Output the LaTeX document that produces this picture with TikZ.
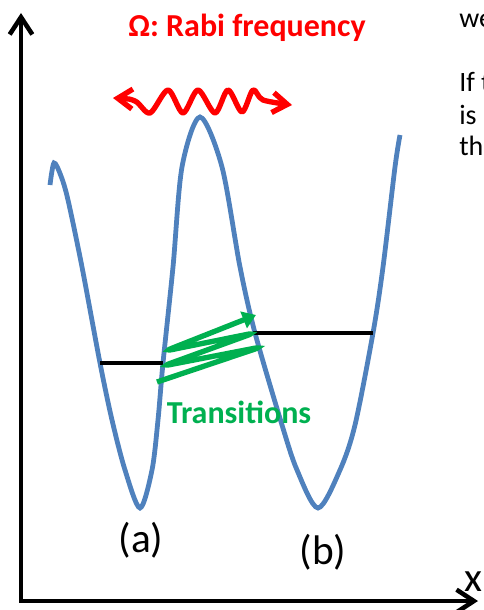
\documentclass[tikz,border=0pt]{standalone}
\usepackage{fontspec}
\setmainfont{Carlito}
\usetikzlibrary{arrows.meta}
\definecolor{WellBlue}{RGB}{79,129,189}
\definecolor{HopGreen}{RGB}{0,176,80}
\definecolor{LaserRed}{RGB}{255,0,0}
\tikzset{
  axis/.style={line width=3.4pt,black,
    {Straight Barb[length=13pt,width=17pt]}-{Straight Barb[length=13pt,width=17pt]}},
  well/.style={line width=3.6pt,WellBlue},
  level/.style={line width=3.4pt,black},
  hop/.style={line width=4pt,HopGreen,rounded corners=5pt,
    -{Triangle[length=10pt,width=13pt]}},
  photon/.style={line width=4pt,LaserRed,line join=round,
    {Straight Barb[length=11pt,width=15pt]}-{Straight Barb[length=11pt,width=15pt]}},
  tag/.style={font=\fontsize{31}{31}\selectfont,inner sep=0pt},
  note/.style={font=\fontsize{21}{24}\selectfont,anchor=base west,inner sep=0pt}
}

\begin{document}
\begin{tikzpicture}[x=0.75pt,y=-0.75pt]
          \useasboundingbox (0,0) rectangle (484,610);
          \clip (0,0) rectangle (484,610);
          % axes
          \draw[axis] (21,13) -- (21,601) -- (478,601);
          \node[tag] (xlab) at (473,582) {x};
          % double well
          \draw[well] plot[smooth] coordinates {(50,185) (54,163) (61,176) (68,200)
            (82,267) (100,363) (112,420) (125,470) (140,508) (152,470) (158,420)
            (163,363) (173,267) (182,167) (200,117) (222,167) (240,267) (255,333)
            (282,425) (297,470) (318,508) (340,470) (355,425) (373,333) (383,267)
            (395,167) (400,135)};
          \draw[level] (100,363) -- (163,363);
          \draw[level] (253,333) -- (373,333);
          \node[tag] (wella) at (141,540) {(a)};
          \node[tag] (wellb) at (323,552) {(b)};
          % tunnelling
          \draw[hop] (157,382) -- (261,347) -- (163,366) -- (254,333)
            -- (165,351) -- (256,315);
          \node[anchor=base,inner sep=0pt,HopGreen,font=\fontsize{24}{24}\selectfont\bfseries]
            (trans) at (239,423) {Transitions};
          % drive
          \draw[photon] plot[smooth] coordinates {(113,98) (135,101) (150,113) (168,90)
            (183,113) (198,90) (215,113) (228,90) (242,112) (253,90) (263,100) (292,105)};
          \node[anchor=base,inner sep=0pt,LaserRed,font=\fontsize{24}{24}\selectfont\bfseries]
            (rabi) at (247,37) {Ω: Rabi frequency};
          % cut-off slide text
          \node[note] (line1) at (459,28) {we};
          \node[note] (line2) at (459,92) {If t};
          \node[note] (line3) at (459,124) {is (};
          \node[note] (line4) at (459,155) {the};
        \end{tikzpicture}
\end{document}
